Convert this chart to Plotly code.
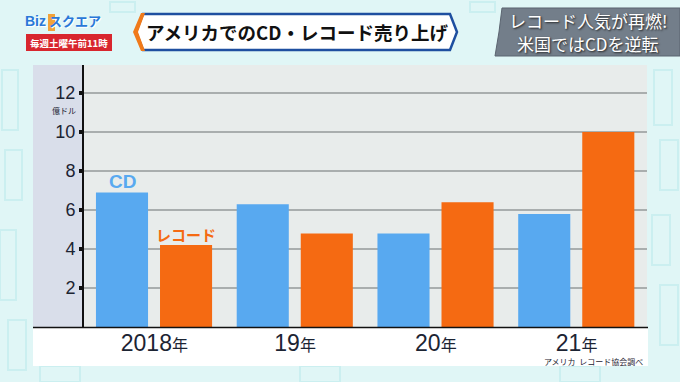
import plotly.graph_objects as go

years = ["2018", "19", "20", "21"]
year_suffix = "年"
cd_sales = [6.9, 6.3, 4.8, 5.8]
record_sales = [4.2, 4.8, 6.4, 10.0]
y_ticks = [2, 4, 6, 8, 10, 12]

W, H = 680, 382
L, R, T, B = 84, 647, 65, 327
YMAX = (B - T) / 19.5

def px(x):
    return (x - L) / (R - L)

def py(y):
    return (B - y) / (B - T)

def path(pts, close=True):
    s = "M " + " L ".join(f"{px(x):.5f},{py(y):.5f}" for x, y in pts)
    return s + (" Z" if close else "")

FONT = "Noto Sans CJK JP"
NUMFONT = "Liberation Sans, Noto Sans CJK JP"
CD_COL = "#58a9f0"
REC_COL = "#f56a12"
TXT = "#1c2433"

fig = go.Figure()
fig.add_bar(x=list(range(4)), y=cd_sales, width=0.37, offset=-0.415,
            marker=dict(color=CD_COL, line=dict(width=0)), name="CD")
fig.add_bar(x=list(range(4)), y=record_sales, width=0.37, offset=0.04,
            marker=dict(color=REC_COL, line=dict(width=0)), name="レコード")

ticktext = [f"{y}<span style='font-size:16px;font-family:Noto Sans CJK JP'>{year_suffix}</span>" for y in years]

deco = "#cbeff0"
shapes = []
for (x0, y0, x1, y1) in [(2, 70, 18, 130), (5, 150, 22, 200), (0, 230, 16, 300), (8, 320, 26, 370),
                         (654, 70, 672, 125), (660, 140, 678, 190), (652, 215, 670, 265),
                         (660, 285, 678, 345), (40, 366, 80, 382), (300, 366, 340, 382),
                         (560, 366, 600, 382), (110, 2, 135, 12), (470, 2, 495, 12)]:
    shapes.append(dict(type="rect", xref="paper", yref="paper", x0=px(x0), x1=px(x1),
                       y0=py(y1), y1=py(y0), fillcolor="rgba(0,0,0,0)",
                       line=dict(color=deco, width=2), layer="below"))

shapes += [
    dict(type="rect", xref="paper", yref="paper", x0=px(33), x1=px(84), y0=py(327), y1=py(65),
         fillcolor="#d9deea", line=dict(width=0), layer="below"),
    dict(type="rect", xref="paper", yref="paper", x0=px(33), x1=px(648), y0=py(366), y1=py(327),
         fillcolor="#ffffff", line=dict(width=0), layer="below"),
    dict(type="line", xref="paper", yref="paper", x0=px(33), x1=px(648), y0=py(327.5), y1=py(327.5),
         line=dict(color="#111111", width=1.5)),
    dict(type="path", xref="paper", yref="paper",
         path=path([(136, 32), (143, 14), (450, 14), (457, 32), (450, 50), (143, 50)]),
         fillcolor="#ffffff", line=dict(color="#1e4fa0", width=2.5)),
    dict(type="path", xref="paper", yref="paper",
         path=path([(133, 32), (141, 13), (145, 13), (138, 32), (145, 51), (141, 51)]),
         fillcolor="#f07a1a", line=dict(width=0)),
    dict(type="path", xref="paper", yref="paper",
         path=path([(502, 8), (680, 8), (680, 56), (495, 56), (499, 32)]),
         fillcolor="#737e8a", line=dict(color="#5b6470", width=1)),
    dict(type="rect", xref="paper", yref="paper", x0=px(26), x1=px(112), y0=py(51), y1=py(34),
         fillcolor="#d8262e", line=dict(width=0)),
    dict(type="rect", xref="paper", yref="paper", x0=px(48), x1=px(55), y0=py(31), y1=py(14),
         fillcolor="#f2a33a", line=dict(width=0)),
]

def ann(text, x, y, size, color, xanchor="center", family=FONT, **kw):
    fontkw = kw.pop("fontkw", {})
    return dict(text=text, x=px(x), y=py(y), xref="paper", yref="paper", showarrow=False,
                xanchor=xanchor, yanchor="middle",
                font=dict(size=size, color=color, family=family, **fontkw), **kw)

annotations = [
    ann("億ドル", 64, 110, 8, TXT),
    ann("<b>CD</b>", 122, 181, 19, CD_COL, family=NUMFONT),
    ann("<b>レコード</b>", 186, 234, 15, REC_COL),
    ann("アメリカ  レコード協会調べ", 645, 361, 8, TXT, xanchor="right"),
    ann("<b>アメリカでのCD・レコード売り上げ</b>", 297, 32, 18.5, "#111111"),
    ann("レコード人気が再燃!", 588, 20, 17, "#ffffff", fontkw=dict(shadow="1px 1px 2px #222")),
    ann("米国ではCDを逆転", 588, 44, 17, "#ffffff", fontkw=dict(shadow="1px 1px 2px #222")),
    ann("<b>Biz</b>", 35, 21, 14, "#2a78d8", family=NUMFONT,
        fontkw=dict(shadow="1px 1px 0px #fff")),
    ann("<b>スクエア</b>", 75, 21, 13, "#2a78d8", fontkw=dict(shadow="1px 1px 0px #fff")),
    ann("<b>毎週土曜午前11時</b>", 69, 42.5, 9.5, "#ffffff"),
]

fig.update_layout(
    width=W, height=H,
    margin=dict(l=L, r=W - R, t=T, b=H - B, autoexpand=False),
    paper_bgcolor="#e0f6f6",
    plot_bgcolor="#e8eceb",
    barmode="overlay",
    showlegend=False,
    font=dict(family=FONT, color=TXT),
    shapes=shapes,
    annotations=annotations,
    xaxis=dict(range=[-0.5, 3.5], tickmode="array", tickvals=list(range(4)), ticktext=ticktext,
               tickfont=dict(size=23, color=TXT, family=NUMFONT), showgrid=False, zeroline=False,
               showline=False, ticks="", fixedrange=True),
    yaxis=dict(range=[0, YMAX], tickvals=y_ticks, ticks="outside", ticklen=3, tickwidth=4,
               tickcolor="#111111", tickfont=dict(size=18, color=TXT, family=NUMFONT),
               showgrid=True, gridcolor="#a9aeae", gridwidth=1.5, zeroline=False,
               showline=True, linecolor="#111111", linewidth=2, fixedrange=True),
)

fig.write_html("out.html", config={"displayModeBar": False},
               post_script="document.body.style.margin='0';document.body.style.padding='0';")
